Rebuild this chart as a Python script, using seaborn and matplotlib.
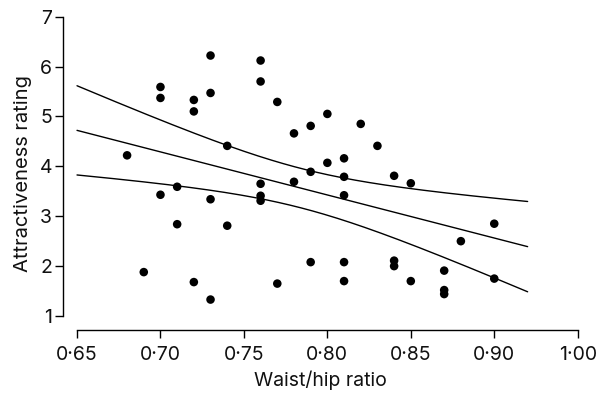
import numpy as np
import pandas as pd
import matplotlib
matplotlib.use("Agg")
import matplotlib.pyplot as plt
import seaborn as sns

# Data
waist_hip = [0.68, 0.69, 0.70, 0.70, 0.70, 0.71, 0.71, 0.72, 0.72, 0.72,
             0.73, 0.73, 0.73, 0.73, 0.74, 0.74, 0.76, 0.76, 0.76, 0.76,
             0.76, 0.77, 0.77, 0.78, 0.78, 0.79, 0.79, 0.79, 0.80, 0.80,
             0.81, 0.81, 0.81, 0.81, 0.81, 0.82, 0.83, 0.84, 0.84, 0.84,
             0.85, 0.85, 0.87, 0.87, 0.87, 0.88, 0.90, 0.90]
rating = [4.22, 1.88, 5.59, 5.37, 3.43, 3.59, 2.84, 5.33, 5.10, 1.68,
          6.22, 5.47, 3.34, 1.33, 4.41, 2.81, 6.12, 5.70, 3.65, 3.41,
          3.31, 5.29, 1.65, 4.66, 3.69, 4.81, 3.89, 2.08, 5.05, 4.07,
          4.16, 3.79, 3.42, 2.08, 1.70, 4.85, 4.41, 3.81, 2.11, 2.00,
          3.66, 1.70, 1.91, 1.52, 1.44, 2.50, 2.85, 1.75]

# Regression line and 95% confidence band
fit_intercept = 10.33
fit_slope = -8.63
ci_min_halfwidth = 0.395   # half-width at the centre of the band
ci_centre_x = 0.784
ci_spread = 0.066
fit_range = (0.65, 0.92)

x_ticks = [0.65, 0.70, 0.75, 0.80, 0.85, 0.90, 0.95]
x_tick_labels = ["0\u00b765", "0\u00b770", "0\u00b775", "0\u00b780", "0\u00b785", "0\u00b790", "1\u00b700"]
y_ticks = [1, 2, 3, 4, 5, 6, 7]

sns.set_style("ticks")
plt.rcParams['font.family'] = ['Inter', 'DejaVu Sans']

df = pd.DataFrame({"whr": waist_hip, "rating": rating})

fig = plt.figure(figsize=(6.03, 3.96), dpi=100)
ax = fig.add_axes([63 / 603, 66 / 396, (577.7 - 63) / 603, (379.4 - 66) / 396])

sns.scatterplot(data=df, x="whr", y="rating", ax=ax, color="black",
                s=38, edgecolor="none", linewidth=0, zorder=3)

xs = np.linspace(fit_range[0], fit_range[1], 200)
ys = fit_intercept + fit_slope * xs
hw = ci_min_halfwidth * np.sqrt(1 + ((xs - ci_centre_x) / ci_spread) ** 2)
lines = pd.DataFrame({"x": np.concatenate([xs, xs, xs]),
                      "y": np.concatenate([ys, ys + hw, ys - hw]),
                      "which": ["fit"] * len(xs) + ["upper"] * len(xs) + ["lower"] * len(xs)})
sns.lineplot(data=lines, x="x", y="y", units="which", estimator=None,
             color="black", lw=1.0, ax=ax, sort=False)

ax.set_xlim(0.6416, 0.95)
ax.set_ylim(0.72, 7)
ax.spines['top'].set_visible(False)
ax.spines['right'].set_visible(False)
ax.spines['left'].set_bounds(1, 7)
ax.spines['bottom'].set_bounds(0.65, 0.95)
for sp in ("left", "bottom"):
    ax.spines[sp].set_linewidth(1.0)
    ax.spines[sp].set_color("black")

ax.set_xticks(x_ticks)
ax.set_xticklabels(x_tick_labels)
ax.set_yticks(y_ticks)
ax.tick_params(axis="both", direction="out", length=5.5, width=1.0,
               color="black", labelsize=14, labelcolor="#111111", pad=2.5)
ax.tick_params(axis="x", pad=6)
ax.set_xlabel("Waist/hip ratio", fontsize=14, color="#111111", labelpad=5)
ax.set_ylabel("Attractiveness rating", fontsize=14.5, color="#111111", labelpad=5)

fig.savefig("out.png", dpi=100)
